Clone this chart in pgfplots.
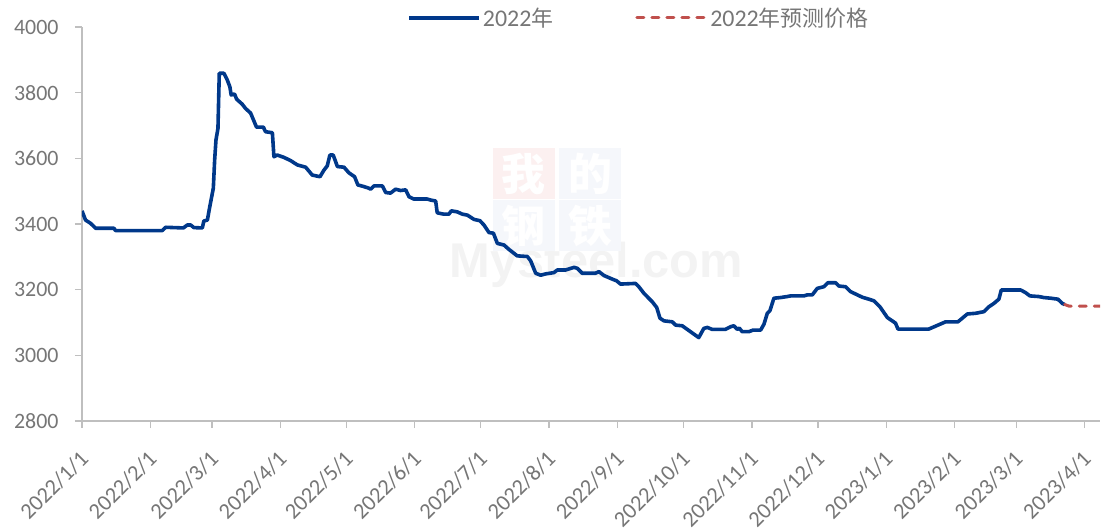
\documentclass[border=0pt]{standalone}
\usepackage{fontspec}
\setmainfont{Carlito}
\newfontfamily\cjk{Noto Sans CJK SC}
\newfontfamily\wmfont{Liberation Sans}
\usepackage{pgfplots}
\pgfplotsset{compat=1.18}
\definecolor{lineblue}{RGB}{0,56,138}
\definecolor{dashred}{RGB}{192,80,77}
\definecolor{txtgray}{RGB}{118,118,118}
\definecolor{axgray}{RGB}{191,191,191}
\definecolor{wmred}{RGB}{252,240,240}
\definecolor{wmblue}{RGB}{245,247,251}
\definecolor{wmgray}{RGB}{243,243,243}
\begin{document}
\begin{tikzpicture}
\useasboundingbox (-82bp,-109bp) rectangle (1020bp,421bp);
\begin{axis}[
  scale only axis, width=1018bp, height=394bp,
  xmin=0, xmax=462, ymin=2800, ymax=4000,
  axis lines*=left,
  axis line style={axgray, line width=1.3bp},
  tick style={axgray, line width=1.3bp},
  tick align=outside, major tick length=7bp,
  ytick={2800,3000,3200,3400,3600,3800,4000},
  xtick={0,31,59,90,120,151,181,212,243,273,304,334,365,396,424,455},
  xticklabels={2022/1/1,2022/2/1,2022/3/1,2022/4/1,2022/5/1,2022/6/1,2022/7/1,2022/8/1,2022/9/1,2022/10/1,2022/11/1,2022/12/1,2023/1/1,2023/2/1,2023/3/1,2023/4/1},
  y tick label style={font=\fontsize{22}{26}\selectfont, text=txtgray, xshift=-13bp},
  x tick label style={font=\fontsize{22.5}{26}\selectfont, text=txtgray, rotate=45, anchor=east, xshift=-14bp, yshift=-21bp},
  /pgf/number format/assume math mode=true,
  /pgf/number format/set thousands separator={},
  legend style={at={(0.547,1.023)}, anchor=center, draw=none, fill=none,
    font=\fontsize{24}{28}\selectfont, text=txtgray,
    /tikz/every even column/.append style={column sep=80bp}},
  legend columns=2,
  legend image code/.code={\draw[#1] (0bp,0bp) -- (70bp,0bp);},
]
% watermark
\node[text=wmgray, font=\wmfont\bfseries\fontsize{49}{49}\selectfont, anchor=base] at (rel axis cs:0.5054,0.365) {Mysteel.com};
\node[fill=wmred, minimum width=62bp, minimum height=51bp, inner sep=0pt, text=white, font=\cjk\bfseries\fontsize{44}{44}\selectfont] at (rel axis cs:0.434,0.627) {我};
\node[fill=wmblue, minimum width=62bp, minimum height=51bp, inner sep=0pt, text=white, font=\cjk\bfseries\fontsize{44}{44}\selectfont] at (rel axis cs:0.499,0.627) {的};
\node[fill=wmblue, minimum width=62bp, minimum height=51bp, inner sep=0pt, text=white, font=\cjk\bfseries\fontsize{44}{44}\selectfont] at (rel axis cs:0.434,0.495) {钢};
\node[fill=wmblue, minimum width=62bp, minimum height=51bp, inner sep=0pt, text=white, font=\cjk\bfseries\fontsize{44}{44}\selectfont] at (rel axis cs:0.499,0.495) {铁};

\addplot[lineblue, line width=3.6bp, line join=round] coordinates {
(0,3440) (1.6,3412) (3.9,3402) (6.2,3387) (14.5,3387) (15.2,3380) (36.4,3380)
(38,3390) (46,3388) (47.8,3397) (49.3,3397) (50.8,3389) (54.6,3388) (55.3,3409)
(56.9,3412) (58,3453) (59.6,3509) (60.2,3595) (60.8,3656) (61.7,3691) (62.3,3859)
(64.4,3859) (65.9,3839) (67.1,3818) (67.7,3793) (69.2,3796) (70.2,3780) (72.7,3765)
(74.2,3752) (76.5,3738) (77.7,3719) (79.2,3695) (82.3,3695) (83.3,3681) (86.4,3678)
(87.1,3605) (88.6,3610) (91.6,3603) (94.7,3593) (97.7,3580) (101.5,3573) (104.5,3549)
(108,3544) (109.8,3564) (111.3,3577) (112.5,3610) (114,3610) (115.1,3590) (115.9,3575)
(118.9,3573) (121.1,3556) (123.7,3544) (125.2,3519) (127.9,3514) (130.2,3509) (131,3506)
(132.5,3516) (136.3,3516) (137.8,3496) (140,3494) (142.3,3506) (144.6,3502) (146.9,3504)
(148.4,3483) (150.6,3476) (156.7,3476) (158.2,3473) (160.5,3470) (161.2,3434) (164.2,3430)
(166.5,3430) (167.6,3440) (170.3,3437) (172.6,3430) (174.9,3427) (177.9,3414) (180.6,3410)
(182.4,3397) (184.7,3374) (186.7,3372) (188.5,3341) (191.5,3336) (193.7,3323) (197.5,3303)
(202.1,3301) (203.6,3288) (205.9,3250) (208.1,3244) (210.4,3248) (214.2,3252) (215.7,3260)
(219.5,3260) (223.3,3268) (224.8,3265) (227,3250) (233,3250) (234.6,3255) (236.9,3243)
(240.7,3232) (242.6,3227) (244.4,3217) (251.2,3219) (252.7,3209) (255,3189) (258.8,3163)
(260.8,3146) (262.3,3113) (264.1,3105) (267.9,3102) (269.4,3092) (272.4,3090) (279.9,3054)
(282.2,3082) (283.8,3085) (286,3079) (292,3079) (294.3,3087) (295.8,3090) (297.4,3079)
(298.3,3083) (299.6,3072) (302.6,3072) (304.6,3077) (308,3077) (309.5,3095) (311,3128)
(312.2,3136) (314,3174) (317,3176) (320,3179) (321.6,3181) (327.6,3181) (329.1,3184)
(331.4,3184) (333.7,3204) (336.7,3209) (338.5,3221) (342,3221) (343.5,3211) (346.5,3209)
(348.8,3194) (354.1,3177) (357.1,3171) (359.4,3166) (362.1,3148) (365.5,3115) (367.7,3105)
(369.2,3098) (370.3,3080) (384.3,3080) (391.9,3102) (397.5,3102) (401.8,3126) (405.5,3128)
(409.3,3133) (411.6,3148) (413.8,3158) (416.1,3171) (417.2,3199) (426,3199) (428.2,3191)
(430.2,3181) (434.3,3179) (436.5,3176) (439.6,3174) (442.9,3171) (444.9,3158) (445.9,3155)
};
\addlegendentry{2022{\cjk\fontsize{22}{26}\selectfont 年}}
\addplot[dashred, line width=3bp, line cap=round, dash pattern=on 7bp off 8bp] coordinates {
(445.9,3155) (447.9,3150) (462,3150)
};
\addlegendentry{2022{\cjk\fontsize{22}{26}\selectfont 年预测价格}}
\end{axis}
\end{tikzpicture}
\end{document}
